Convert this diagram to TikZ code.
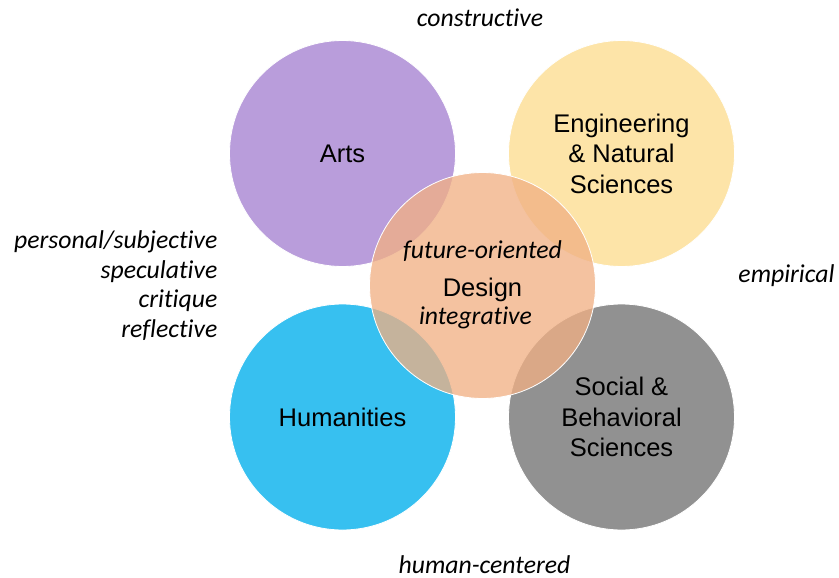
\documentclass[tikz,border=0pt]{standalone}
\usepackage{fontspec}
\setmainfont{Liberation Sans}
\newfontfamily\calibfont[Ligatures={NoCommon}]{Carlito}
\definecolor{artsc}{HTML}{B99DDB}
\definecolor{engc}{HTML}{FDE4A8}
\definecolor{humc}{HTML}{37C0F0}
\definecolor{socc}{HTML}{919191}
\definecolor{desc}{HTML}{F1B084}
\begin{document}
\begin{tikzpicture}[x=1pt,y=-1pt,
  field/.style={circle,minimum size=226pt,inner sep=0pt,draw=white,line width=0.8pt,
    align=center,font=\fontsize{25.5}{30.5}\selectfont,text=black},
  trait/.style={font=\calibfont\itshape\fontsize{25.7}{29.5}\selectfont,inner sep=0pt,text=black,anchor=base}]
\useasboundingbox (0,0) rectangle (839,578);
% four disciplines
\node[field,fill=artsc] (arts) at (342.5,153.5) {Arts};
\node[field,fill=engc] (eng) at (621.5,153.5) {Engineering\\\& Natural\\Sciences};
\node[field,fill=humc] (hum) at (342.5,417) {Humanities};
\node[field,fill=socc] (soc) at (621.5,417) {Social \&\\Behavioral\\Sciences};
% design in the middle, translucent
\node[field,fill=desc,fill opacity=0.77,text opacity=1] (design) at (482.5,285.5) {};
\node[trait] (fut) at (482.5,258) {future-oriented};
\node[anchor=base,inner sep=0pt,font=\fontsize{25.5}{30}\selectfont] (dlab) at (482.5,296) {Design};
\node[trait] (integ) at (475.5,324) {integrative};
% surrounding qualities
\node[trait] (constr) at (480,27) {constructive};
\node[trait] (emp) at (786.5,282) {empirical};
\node[trait] (humc) at (484.5,573) {human-centered};
\node[trait,anchor=base east] (pers1) at (217.5,248) {personal/subjective};
\node[trait,anchor=base east] (pers2) at (217.5,278) {speculative};
\node[trait,anchor=base east] (pers3) at (217.5,307.5) {critique};
\node[trait,anchor=base east] (pers4) at (217.5,337) {reflective};
\end{tikzpicture}
\end{document}
